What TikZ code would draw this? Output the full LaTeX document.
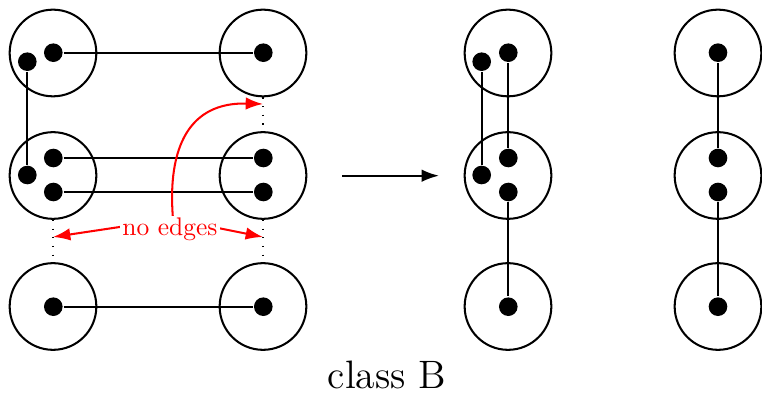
\documentclass[tikz,border=0pt]{standalone}
\usepackage{graphicx}
\usetikzlibrary{arrows.meta}
\begin{document}
\begin{tikzpicture}[x=0.3922pt,y=0.3922pt,line width=0.8pt,
  >={Latex[length=6.8pt,width=4.9pt]},
  blob/.style={draw,circle,minimum size=34pt,inner sep=0pt},
  pt/.style={fill,circle,minimum size=7.3pt,inner sep=0pt},
  dotline/.style={line width=0.5pt,dash pattern=on 0.5pt off 2.9pt},
  redarrow/.style={red,->},
  lbl/.style={fill=white,text=red,inner sep=1pt}]
\useasboundingbox (0,0) rectangle (762,396);
% circles
\node[blob] (c11) at (53,343) {};
\node[blob] (c12) at (263,343) {};
\node[blob] (c21) at (53,220.5) {};
\node[blob] (c22) at (263,220.5) {};
\node[blob] (c31) at (53,89.5) {};
\node[blob] (c32) at (263,89.5) {};
\node[blob] (d1) at (508,343) {};
\node[blob] (d2) at (508,220.5) {};
\node[blob] (d3) at (508,89.5) {};
\node[blob] (e1) at (718,343) {};
\node[blob] (e2) at (718,220.5) {};
\node[blob] (e3) at (718,89.5) {};
% dots
\node[pt] (p11a) at (53.3,343.3) {};
\node[pt] (p11b) at (27.3,334.3) {};
\node[pt] (p12) at (263.3,343.3) {};
\node[pt] (p21a) at (53.3,238) {};
\node[pt] (p21b) at (27.3,221) {};
\node[pt] (p21c) at (53.3,204) {};
\node[pt] (p22a) at (263.3,238) {};
\node[pt] (p22c) at (263.3,204) {};
\node[pt] (p31) at (53.3,89.3) {};
\node[pt] (p32) at (263.3,89.3) {};
\node[pt] (q1a) at (508.3,343.3) {};
\node[pt] (q1b) at (481.7,334.3) {};
\node[pt] (q2a) at (508.3,238) {};
\node[pt] (q2b) at (481.7,221) {};
\node[pt] (q2c) at (508.3,204) {};
\node[pt] (q3) at (508.3,89.3) {};
\node[pt] (r1) at (718,343.3) {};
\node[pt] (r2a) at (718,238) {};
\node[pt] (r2c) at (718,204) {};
\node[pt] (r3) at (718,89.3) {};
% edges
\draw (p11a) -- (p12);
\draw (p11b) -- (p21b);
\draw (p21a) -- (p22a);
\draw (p21c) -- (p22c);
\draw (p31) -- (p32);
\draw (q1b) -- (q2b);
\draw (q1a) -- (q2a);
\draw (q2c) -- (q3);
\draw (r1) -- (r2a);
\draw (r2c) -- (r3);
% dotted
\draw[dotline] (c12.south) -- (c22.north);
\draw[dotline] (c21.south) -- (c31.north);
\draw[dotline] (c22.south) -- (c32.north);
% main arrow
\coordinate (a1) at (342,220.3);
\coordinate (a2) at (439,220.3);
\draw[->] (a1) -- (a2);
% red arrows
\coordinate (o) at (173,177);
\coordinate (t1) at (53,159);
\coordinate (t2) at (263,159);
\coordinate (t3) at (263,292);
\draw[redarrow] (o) -- (t1);
\draw[redarrow] (o) -- (t2);
\draw[redarrow] (o) .. controls (167,250) and (190,294) .. (t3);
\node[lbl] (lab) at (170,166.3) {no edges};
% caption
\node[anchor=base,inner sep=0pt] (cap) at (387,7) {\scalebox{1.08}{\Large class B}};
\end{tikzpicture}
\end{document}
